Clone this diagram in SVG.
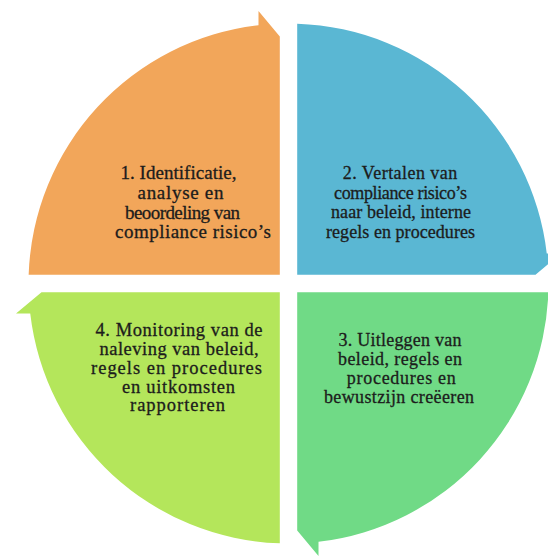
<svg xmlns="http://www.w3.org/2000/svg" xmlns:xlink="http://www.w3.org/1999/xlink" width="548" height="556" viewBox="0 0 548 556">
  <style>
    .lbl { font-family: "Liberation Serif", "Times New Roman", serif; fill: #1c1c1c; stroke: #1c1c1c; stroke-width: 0.3px; text-anchor: middle; }
    .b1 { font-size: 19px; }
    .b2 { font-size: 18px; }
    .b3 { font-size: 18px; }
    .b4 { font-size: 18.5px; }
  </style>
  <defs>
    <path id="seg" d="M -259.85 -8.7 A 260 260 0 0 1 -30 -258.26 L -30 -272.5 L -8.7 -247 L -8.7 -8.7 Z"/>
  </defs>
  <rect width="548" height="556" fill="#ffffff"/>
  <g id="connectors"></g>
  <g id="node1">
    <use xlink:href="#seg" href="#seg" transform="translate(288.5 283.5)" fill="#F2A65A"/>
    <text class="lbl b1" x="178.5" y="179" textLength="116" lengthAdjust="spacing">1. Identificatie,</text>
    <text class="lbl b1" x="180.5" y="199" textLength="86" lengthAdjust="spacing">analyse en</text>
    <text class="lbl b1" x="182.5" y="218.5" textLength="115" lengthAdjust="spacing">beoordeling van</text>
    <text class="lbl b1" x="193" y="238" textLength="156" lengthAdjust="spacing">compliance risico’s</text>
  </g>
  <g id="node2">
    <use xlink:href="#seg" href="#seg" transform="translate(288.5 283.5) rotate(90)" fill="#5AB7D3"/>
    <text class="lbl b2" x="400" y="179" textLength="114.5" lengthAdjust="spacing">2. Vertalen van</text>
    <text class="lbl b2" x="400.5" y="198.7" textLength="133" lengthAdjust="spacing">compliance risico’s</text>
    <text class="lbl b2" x="401" y="218.3" textLength="140" lengthAdjust="spacing">naar beleid, interne</text>
    <text class="lbl b2" x="400.5" y="237.5" textLength="149" lengthAdjust="spacing">regels en procedures</text>
  </g>
  <g id="node3">
    <use xlink:href="#seg" href="#seg" transform="translate(288.5 283.5) rotate(180)" fill="#70DA86"/>
    <text class="lbl b3" x="400" y="346" textLength="123" lengthAdjust="spacing">3. Uitleggen van</text>
    <text class="lbl b3" x="400" y="365" textLength="124" lengthAdjust="spacing">beleid, regels en</text>
    <text class="lbl b3" x="401.3" y="383.5" textLength="109" lengthAdjust="spacing">procedures en</text>
    <text class="lbl b3" x="399" y="402.5" textLength="150" lengthAdjust="spacing">bewustzijn creëeren</text>
  </g>
  <g id="node4">
    <use xlink:href="#seg" href="#seg" transform="translate(288.5 283.5) rotate(270)" fill="#B4E65B"/>
    <text class="lbl b4" x="179" y="336" textLength="167" lengthAdjust="spacing">4. Monitoring van de</text>
    <text class="lbl b4" x="179" y="355" textLength="159" lengthAdjust="spacing">naleving van beleid,</text>
    <text class="lbl b4" x="176.5" y="374" textLength="171" lengthAdjust="spacing">regels en procedures</text>
    <text class="lbl b4" x="178.5" y="392.5" textLength="113" lengthAdjust="spacing">en uitkomsten</text>
    <text class="lbl b4" x="177.5" y="411" textLength="95" lengthAdjust="spacing">rapporteren</text>
  </g>
</svg>
